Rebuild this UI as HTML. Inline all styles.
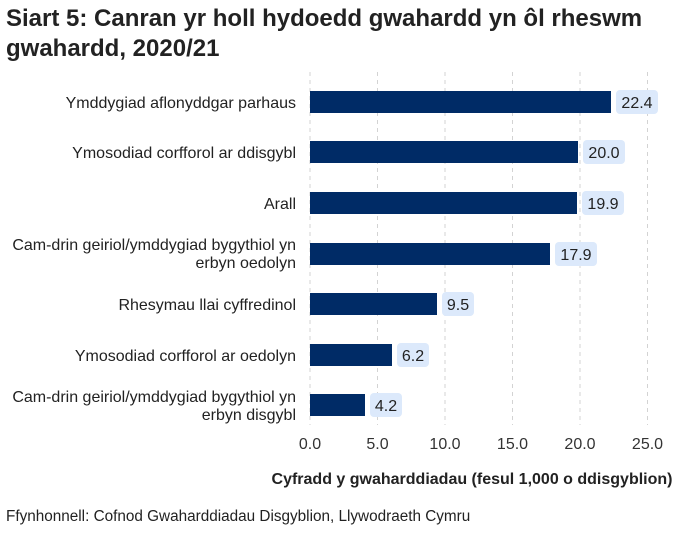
<!DOCTYPE html>
<html><head><style>
body{margin:0;background:#fff;}
text{font-family:"Liberation Sans",Arial,sans-serif;}
</style></head><body>
<svg width="679" height="532" xmlns="http://www.w3.org/2000/svg">
<text x="6" y="26" font-size="24" font-weight="bold" fill="#222">Siart 5: Canran yr holl hydoedd gwahardd yn ôl rheswm</text>
<text x="6" y="56" font-size="24" font-weight="bold" fill="#222">gwahardd, 2020/21</text>
<g stroke="#d3d3d3" stroke-dasharray="4,4" stroke-width="1">
<line x1="310" y1="72" x2="310" y2="425"/>
<line x1="377.5" y1="72" x2="377.5" y2="425"/>
<line x1="445" y1="72" x2="445" y2="425"/>
<line x1="512.5" y1="72" x2="512.5" y2="425"/>
<line x1="580" y1="72" x2="580" y2="425"/>
<line x1="647.5" y1="72" x2="647.5" y2="425"/>
</g>
<g fill="#002b66">
<rect x="310" y="91" width="301" height="22"/>
<rect x="310" y="141" width="268" height="22"/>
<rect x="310" y="192" width="267" height="22"/>
<rect x="310" y="243" width="240" height="22"/>
<rect x="310" y="293" width="127" height="22"/>
<rect x="310" y="344" width="82" height="22"/>
<rect x="310" y="394" width="55" height="22"/>
</g>
<g fill="#dce9fb">
<rect x="616" y="90" width="42" height="24" rx="4"/>
<rect x="583" y="140" width="42" height="24" rx="4"/>
<rect x="582" y="191" width="42" height="24" rx="4"/>
<rect x="555" y="242" width="42" height="24" rx="4"/>
<rect x="442" y="292" width="32" height="24" rx="4"/>
<rect x="397" y="343" width="32" height="24" rx="4"/>
<rect x="370" y="393" width="32" height="24" rx="4"/>
</g>
<g font-size="16" fill="#222" text-anchor="middle">
<text x="637" y="108">22.4</text>
<text x="604" y="158">20.0</text>
<text x="603" y="209">19.9</text>
<text x="576" y="260">17.9</text>
<text x="458" y="310">9.5</text>
<text x="413" y="361">6.2</text>
<text x="386" y="411">4.2</text>
</g>
<g font-size="16" fill="#222" text-anchor="end">
<text x="296" y="108">Ymddygiad aflonyddgar parhaus</text>
<text x="296" y="158">Ymosodiad corfforol ar ddisgybl</text>
<text x="296" y="209">Arall</text>
<text x="296" y="250">Cam-drin geiriol/ymddygiad bygythiol yn</text>
<text x="296" y="268">erbyn oedolyn</text>
<text x="296" y="310">Rhesymau llai cyffredinol</text>
<text x="296" y="361">Ymosodiad corfforol ar oedolyn</text>
<text x="296" y="402">Cam-drin geiriol/ymddygiad bygythiol yn</text>
<text x="296" y="420">erbyn disgybl</text>
</g>
<g font-size="16" fill="#333" text-anchor="middle">
<text x="310" y="449">0.0</text>
<text x="377.5" y="449">5.0</text>
<text x="445" y="449">10.0</text>
<text x="512.5" y="449">15.0</text>
<text x="580" y="449">20.0</text>
<text x="647.5" y="449">25.0</text>
</g>
<text x="472" y="484" font-size="16" font-weight="bold" fill="#222" text-anchor="middle">Cyfradd y gwaharddiadau (fesul 1,000 o ddisgyblion)</text>
<text x="6" y="521" font-size="15.3" fill="#222">Ffynhonnell: Cofnod Gwaharddiadau Disgyblion, Llywodraeth Cymru</text>
</svg>
</body></html>
